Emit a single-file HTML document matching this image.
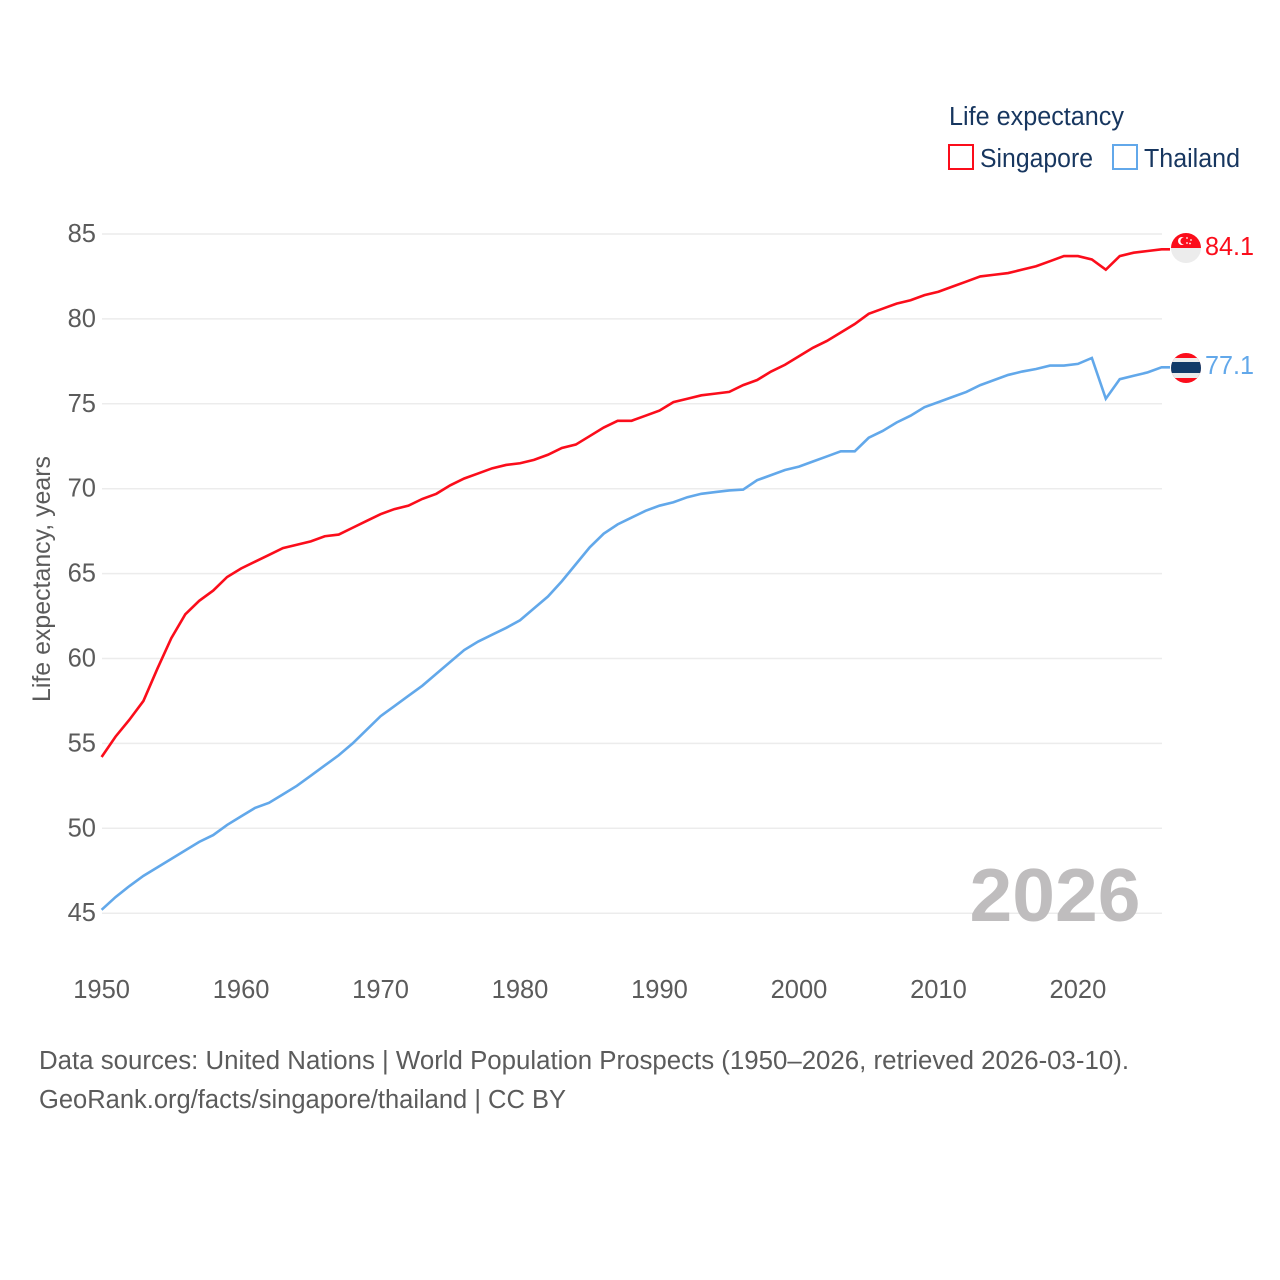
<!DOCTYPE html>
<html lang="en">
<head>
<meta charset="utf-8">
<title>Life expectancy: Singapore vs Thailand</title>
<style>
html,body{margin:0;padding:0;background:#fff;width:1280px;height:1280px;overflow:hidden}
svg{display:block}
text{font-family:"Liberation Sans",sans-serif}
</style>
</head>
<body>
<svg id="chart" width="1280" height="1280" viewBox="0 0 1280 1280" xmlns="http://www.w3.org/2000/svg">
  <g id="grid"></g>
  <text x="969.5" y="921" font-size="75" font-weight="700" fill="#bfbdbe" textLength="171" lengthAdjust="spacingAndGlyphs">2026</text>
  <g id="yticks"></g>
  <g id="xticks"></g>
  <text transform="translate(50,702) rotate(-90)" font-size="25" fill="#5b5b5b" textLength="246" lengthAdjust="spacingAndGlyphs">Life expectancy, years</text>
  <g id="series"></g>

  <g>
    <text x="949" y="125" font-size="25.5" fill="#17365f" textLength="175" lengthAdjust="spacingAndGlyphs">Life expectancy</text>
    <rect x="949" y="145" width="24" height="24" fill="#fff" stroke="#fb0d1b" stroke-width="2"></rect>
    <text x="980" y="167" font-size="25.5" fill="#17365f" textLength="113" lengthAdjust="spacingAndGlyphs">Singapore</text>
    <rect x="1113" y="145" width="24" height="24" fill="#fff" stroke="#62a8ea" stroke-width="2"></rect>
    <text x="1144" y="167" font-size="25.5" fill="#17365f" textLength="96" lengthAdjust="spacingAndGlyphs">Thailand</text>
  </g>

  <defs>
    <clipPath id="sgClip"><circle cx="1186" cy="248" r="15"></circle></clipPath>
    <clipPath id="thClip"><circle cx="1186" cy="368" r="15"></circle></clipPath>
  </defs>
  <g clip-path="url(#sgClip)">
    <rect x="1171" y="233" width="30" height="15" fill="#fb0d1b"></rect>
    <rect x="1171" y="248" width="30" height="15" fill="#ececec"></rect>
    <circle cx="1182" cy="241" r="4" fill="#fff"></circle>
    <circle cx="1184" cy="241" r="3.6" fill="#fb0d1b"></circle>
    <circle cx="1187" cy="238" r="0.9" fill="#fff"></circle>
    <circle cx="1191" cy="240" r="0.9" fill="#fff"></circle>
    <circle cx="1187" cy="243" r="0.9" fill="#fff"></circle>
    <circle cx="1190" cy="243.5" r="0.9" fill="#fff"></circle>
  </g>
  <g clip-path="url(#thClip)">
    <rect x="1171" y="353" width="30" height="30" fill="#fb0d1b"></rect>
    <rect x="1171" y="358" width="30" height="20" fill="#ececec"></rect>
    <rect x="1171" y="362" width="30" height="11" fill="#123a68"></rect>
  </g>
  <text id="label-sg" x="1205" y="255" font-size="25.5" fill="#fb0d1b" textLength="49" lengthAdjust="spacingAndGlyphs"></text>
  <text id="label-th" x="1205" y="374" font-size="25.5" fill="#62a8ea" textLength="49" lengthAdjust="spacingAndGlyphs"></text>

  <g>
    <text x="39" y="1069" font-size="25.5" fill="#5b5b5b" textLength="1090" lengthAdjust="spacingAndGlyphs">Data sources: United Nations | World Population Prospects (1950–2026, retrieved 2026-03-10).</text>
    <text x="39" y="1108" font-size="25.5" fill="#5b5b5b" textLength="527" lengthAdjust="spacingAndGlyphs">GeoRank.org/facts/singapore/thailand | CC BY</text>
  </g>
</svg>
<script>
const startYear = 1950;
const yTickValues = [45, 50, 55, 60, 65, 70, 75, 80, 85];
const xTickValues = [1950, 1960, 1970, 1980, 1990, 2000, 2010, 2020];
const singaporeValues = [54.2,55.4,56.4,57.5,59.4,61.2,62.6,63.4,64.0,64.8,65.3,65.7,66.1,66.5,66.7,66.9,67.2,67.3,67.7,68.1,68.5,68.8,69.0,69.4,69.7,70.2,70.6,70.9,71.2,71.4,71.5,71.7,72.0,72.4,72.6,73.1,73.6,74.0,74.0,74.3,74.6,75.1,75.3,75.5,75.6,75.7,76.1,76.4,76.9,77.3,77.8,78.3,78.7,79.2,79.7,80.3,80.6,80.9,81.1,81.4,81.6,81.9,82.2,82.5,82.6,82.7,82.9,83.1,83.4,83.7,83.7,83.5,82.9,83.7,83.9,84.0,84.1];
const thailandValues = [45.2,45.95,46.6,47.2,47.7,48.2,48.7,49.2,49.6,50.2,50.7,51.2,51.5,52.0,52.5,53.1,53.7,54.3,55.0,55.8,56.6,57.2,57.8,58.4,59.1,59.8,60.5,61.0,61.4,61.8,62.25,62.95,63.65,64.55,65.55,66.55,67.35,67.9,68.3,68.7,69.0,69.2,69.5,69.7,69.8,69.9,69.95,70.5,70.8,71.1,71.3,71.6,71.9,72.2,72.2,73.0,73.4,73.9,74.3,74.8,75.1,75.4,75.7,76.1,76.4,76.7,76.9,77.05,77.25,77.25,77.35,77.7,75.3,76.45,76.65,76.85,77.15];

const SVGNS = 'http://www.w3.org/2000/svg';
const xScale = function (year) { return 101.6 + (year - 1950) * (1161.6 - 101.6) / 76; };
const yScale = function (v) { return 913.2 - (v - 45) * (913.2 - 234) / 40; };

const grid = document.getElementById('grid');
const yticks = document.getElementById('yticks');
const xticks = document.getElementById('xticks');
const series = document.getElementById('series');

yTickValues.forEach(function (v) {
  const line = document.createElementNS(SVGNS, 'line');
  
  
  line.setAttribute('x1', 102);
  line.setAttribute('x2', 1162);
  line.setAttribute('y1', yScale(v));
  line.setAttribute('y2', yScale(v));
  line.setAttribute('stroke', '#ececec');
  line.setAttribute('stroke-width', '1.5');
  grid.appendChild(line);

  const label = document.createElementNS(SVGNS, 'text');
  
  
  label.setAttribute('x', 96);
  label.setAttribute('y', yScale(v) + 8);
  label.setAttribute('text-anchor', 'end');
  label.setAttribute('font-size', '25.5');
  label.setAttribute('fill', '#5b5b5b');
  label.textContent = v;
  yticks.appendChild(label);
});

xTickValues.forEach(function (year) {
  const label = document.createElementNS(SVGNS, 'text');
  
  
  label.setAttribute('x', xScale(year));
  label.setAttribute('y', 998);
  label.setAttribute('text-anchor', 'middle');
  label.setAttribute('font-size', '25.5');
  label.setAttribute('fill', '#5b5b5b');
  label.textContent = year;
  xticks.appendChild(label);
});

function pathFor(values) {
  let d = '';
  values.forEach(function (v, i) {
    d += (i === 0 ? 'M' : 'L') + xScale(startYear + i).toFixed(2) + ' ' + yScale(v).toFixed(2);
  });
  return d;
}

const singaporeLine = document.createElementNS(SVGNS, 'path');


singaporeLine.setAttribute('d', pathFor(singaporeValues) + 'L1170 ' + yScale(singaporeValues[singaporeValues.length - 1]).toFixed(2));
singaporeLine.setAttribute('fill', 'none');
singaporeLine.setAttribute('stroke', '#fb0d1b');
singaporeLine.setAttribute('stroke-width', '2.6');
series.appendChild(singaporeLine);

const thailandLine = document.createElementNS(SVGNS, 'path');


thailandLine.setAttribute('d', pathFor(thailandValues) + 'L1170 ' + yScale(thailandValues[thailandValues.length - 1]).toFixed(2));
thailandLine.setAttribute('fill', 'none');
thailandLine.setAttribute('stroke', '#62a8ea');
thailandLine.setAttribute('stroke-width', '2.6');
series.appendChild(thailandLine);

document.getElementById('label-sg').textContent = singaporeValues[singaporeValues.length - 1].toFixed(1);
document.getElementById('label-th').textContent = (Math.round(thailandValues[thailandValues.length - 1] * 10 - 0.5) / 10).toFixed(1);
</script>
</body>
</html>
